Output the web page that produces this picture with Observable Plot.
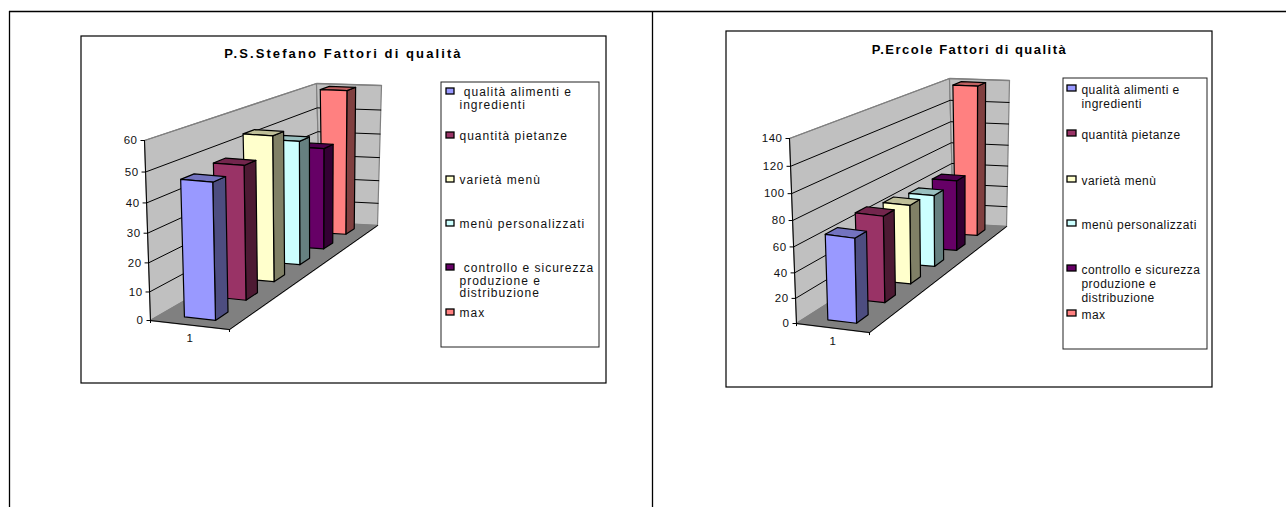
<!DOCTYPE html>
<html>
<head>
<meta charset="utf-8">
<script src="https://cdn.jsdelivr.net/npm/d3@7"></script>
<script src="https://cdn.jsdelivr.net/npm/@observablehq/plot@0.6"></script>
<style>
  html, body { margin: 0; padding: 0; background: #fff; }
  #page { position: relative; width: 1286px; height: 507px; overflow: hidden; }
  #page svg { position: absolute; left: 0; top: 0; }
  .title-0 { letter-spacing: 2.1px; }
  .title-1 { letter-spacing: 1.5px; }
  .legend-0 { letter-spacing: 1px; }
  .legend-1 { letter-spacing: 0.45px; }
</style>
</head>
<body>
<div id="page"></div>
<script>
// Survey results: one category, six quality factors, two sites.
const stefanoTitle = "P.S.Stefano Fattori di qualità";
const ercoleTitle = "P.Ercole Fattori di qualità";
const categoryLabels = ["1"];
const factorColors = ["#9999FF", "#993366", "#FFFFCC", "#CCFFFF", "#660066", "#FF8080"];
const stefanoValues = [47, 48, 54, 48, 41, 60];
const ercoleValues = [68, 72, 68, 64, 65, 140];
const stefanoTicks = [0, 10, 20, 30, 40, 50, 60];
const ercoleTicks = [0, 20, 40, 60, 80, 100, 120, 140];
const stefanoLegend = ["\u00a0qualità alimenti e\ningredienti", "quantità pietanze", "varietà menù", "menù personalizzati", "\u00a0controllo e sicurezza\nproduzione e\ndistribuzione", "max"];
const ercoleLegend = ["qualità alimenti e\ningredienti", "quantità pietanze", "varietà menù", "menù personalizzati", "controllo e sicurezza\nproduzione e\ndistribuzione", "max"];

// Page layout, in pixels.
const W = 1286, H = 507;
const FONT = "'Liberation Sans', Arial, sans-serif";
const panels = [
  {
    title: stefanoTitle, values: stefanoValues, ticks: stefanoTicks, legend: stefanoLegend,
    box: {x1: 81, x2: 606, y1: 36, y2: 383}, titleAt: [343, 53],
    legendBox: {x1: 441, x2: 599, y1: 82, y2: 347},
    legendX: [446, 454, 459], legendY: [91, 135, 179, 223, 267, 312], lineHeight: 1.03,
    // frame corners, keyed u (across), v (up), d (into the page)
    corners: {
      "000": [150, 320], "100": [229, 329], "010": [144, 140], "110": [226, 147],
      "001": [320, 222], "101": [377, 225], "011": [316, 83], "111": [381, 85]
    }
  },
  {
    title: ercoleTitle, values: ercoleValues, ticks: ercoleTicks, legend: ercoleLegend,
    box: {x1: 726, x2: 1212, y1: 31, y2: 387}, titleAt: [969, 49],
    legendBox: {x1: 1063, x2: 1207, y1: 78, y2: 349},
    legendX: [1067, 1076, 1081], legendY: [88, 133, 179, 223, 268, 313], lineHeight: 1.15,
    corners: {
      "000": [796, 323], "100": [869, 332], "010": [789, 138], "110": [866, 150],
      "001": [953, 223], "101": [1006, 226], "011": [949, 78], "111": [1009, 80]
    }
  }
];

// Depth and height foreshortening of the 3D view.
const depthBend = 0.27, heightBend = 0.062;
const bendDepth = e => e * (1 + depthBend) / (1 + depthBend * e);
const bendHeight = t => t / (1 + heightBend * (1 - t));

// Column footprint inside one category and one depth slot.
const columnU = [0.3, 0.7];
const slotGap = 0.3, slotDepth = 0.4;

const lerp = (a, b, t) => a + (b - a) * t;

function shade(color, k) {
  const c = d3.rgb(color);
  return d3.rgb(c.r * k, c.g * k, c.b * k).formatHex();
}

// Table rules, chart frames, titles, legends.
const frames = panels.map(p => p.box);
const legendFrames = panels.map(p => p.legendBox);
const tableV = [9, 652];
const legendRows = panels.flatMap((p, k) => p.legend.map((label, i) => ({
  panel: k, label, color: factorColors[i],
  x1: p.legendX[0], x2: p.legendX[1], tx: p.legendX[2],
  cy: p.legendY[i]
})));

const base = Plot.plot({
  width: W, height: H, margin: 0,
  x: {domain: [0, W], range: [0, W], axis: null},
  y: {domain: [0, H], range: [0, H], axis: null},
  color: {type: "identity"},
  style: {background: "transparent", fontFamily: FONT},
  marks: [
    Plot.ruleX(tableV, {y1: () => 11, y2: () => H, stroke: "#000", strokeWidth: 1.3}),
    Plot.ruleY([11], {x1: () => 9, x2: () => W, stroke: "#000", strokeWidth: 1.3}),
    Plot.rect(frames, {x1: "x1", x2: "x2", y1: "y1", y2: "y2", fill: "#fff", stroke: "#000", strokeWidth: 1.2}),
    Plot.rect(legendFrames, {x1: "x1", x2: "x2", y1: "y1", y2: "y2", fill: "#fff", stroke: "#222", strokeWidth: 1}),
    Plot.rect(legendRows, {x1: "x1", x2: "x2", y1: d => d.cy - 3, y2: d => d.cy + 3, fill: "color", stroke: "#000", strokeWidth: 1.3}),
    ...panels.flatMap((p, k) => [
      Plot.text([p], {
        x: d => d.titleAt[0], y: d => d.titleAt[1], text: "title",
        fontWeight: "bold", fontSize: 13, fill: "#000", className: `title-${k}`
      }),
      Plot.text(legendRows.filter(d => d.panel === k), {
        x: "tx", y: d => d.cy - 4, text: "label", textAnchor: "start", lineAnchor: "top",
        lineHeight: p.lineHeight, fontSize: 12, fill: "#111", className: `legend-${k}`
      })
    ])
  ]
});
document.getElementById("page").appendChild(base);

// One 3D column chart, drawn on value and category scales.
function columnChart(p) {
  const yMax = d3.max(p.ticks);
  const c = p.corners;
  const xs = d3.scaleLinear([0, 1], [c["000"][0], c["100"][0]]);
  const ys = d3.scaleLinear([0, yMax], [c["000"][1], c["010"][1]]);
  const unit = Object.fromEntries(Object.entries(c).map(([k, [a, b]]) => [k, [xs.invert(a), ys.invert(b)]]));

  // Places (across, value, depth) in chart units.
  const project = (u, v, e) => {
    const t = bendHeight(v / yMax), d = bendDepth(e);
    return [0, 1].map(i => lerp(
      lerp(lerp(unit["000"][i], unit["100"][i], u), lerp(unit["010"][i], unit["110"][i], u), t),
      lerp(lerp(unit["001"][i], unit["101"][i], u), lerp(unit["011"][i], unit["111"][i], u), t),
      d));
  };
  const path = list => list.map(a => project(...a));

  // Walls
  const walls = [];
  [
    [[0, 0, 0], [0, yMax, 0], [0, yMax, 1], [0, 0, 1]],
    [[0, 0, 1], [0, yMax, 1], [1, yMax, 1], [1, 0, 1]]
  ].forEach((list, id) => {
    const pts = path(list);
    [...pts, pts[0]].forEach(([x, y]) => walls.push({id, x, y}));
  });
  const floor = path([[0, 0, 0], [1, 0, 0], [1, 0, 1], [0, 0, 1], [0, 0, 0]]);

  // Gridlines on both walls
  const grid = p.ticks.slice(1, -1).flatMap(v =>
    path([[0, v, 0], [0, v, 1], [1, v, 1]]).map(([x, y]) => ({v, x, y})));
  const topEdge = path([[0, yMax, 0], [0, yMax, 1], [1, yMax, 1]]);

  // Columns, painted from the far end to the near end
  const bars = [];
  const slots = p.values.length;
  const [u0, u1] = columnU;
  d3.range(slots - 1, -1, -1).forEach(i => {
    const v = p.values[i], col = factorColors[i];
    const e0 = (i + slotGap) / slots, e1 = (i + slotGap + slotDepth) / slots;
    const push = (fill, list) => {
      const id = bars.length ? bars[bars.length - 1].id + 1 : 0;
      const pts = path(list);
      [...pts, pts[0]].forEach(([x, y]) => bars.push({id, x, y, fill}));
    };
    push(shade(col, 0.5), [[u1, 0, e0], [u1, 0, e1], [u1, v, e1], [u1, v, e0]]);
    push(shade(col, 0.75), [[u0, v, e0], [u1, v, e0], [u1, v, e1], [u0, v, e1]]);
    push(col, [[u0, 0, e0], [u1, 0, e0], [u1, v, e0], [u0, v, e0]]);
  });

  const tick = 4 / (xs(1) - xs(0));
  const axisTicks = p.ticks.map(v => {
    const [x, y] = project(0, v, 0);
    return {v, x, y};
  });
  const floorFront = path([[0, 0, 0], [1, 0, 0], [1, 0, 1]]);
  const axisEdge = path([[0, 0, 0], [0, yMax, 0]]);
  const catTicks = path([[0, 0, 0], [1, 0, 0]]);
  const catLabels = categoryLabels.map(label => {
    const [x, y] = project(0.5, 0, 0);
    return {label, x, y};
  });

  return Plot.plot({
    width: W, height: H, margin: 0,
    x: {domain: [0, 1], range: [xs(0), xs(1)], axis: null},
    y: {domain: [0, yMax], range: [ys(0), ys(yMax)], axis: null},
    color: {type: "identity"},
    style: {background: "transparent", fontFamily: FONT, letterSpacing: "0.5px"},
    marks: [
      Plot.line(walls, {x: "x", y: "y", z: "id", fill: "#C0C0C0", stroke: "#808080", strokeWidth: 1.2}),
      Plot.line(grid, {x: "x", y: "y", z: "v", stroke: "#000", strokeWidth: 1}),
      Plot.line(topEdge, {x: d => d[0], y: d => d[1], stroke: "#808080", strokeWidth: 1.3}),
      Plot.line(floor, {x: d => d[0], y: d => d[1], fill: "#808080", stroke: "#808080"}),
      Plot.line(floorFront, {x: d => d[0], y: d => d[1], stroke: "#000", strokeWidth: 1}),
      Plot.line(axisEdge, {x: d => d[0], y: d => d[1], stroke: "#000", strokeWidth: 1}),
      Plot.line(bars, {x: "x", y: "y", z: "id", fill: "fill", stroke: "#000", strokeWidth: 1.2}),
      Plot.link(axisTicks, {x1: "x", y1: "y", x2: d => d.x - tick, y2: "y", stroke: "#000", strokeWidth: 1}),
      Plot.ruleX(catTicks, {x: d => d[0], y1: d => d[1], y2: d => d[1] - (yMax / 60), stroke: "#000", strokeWidth: 1}),
      Plot.text(axisTicks, {x: "x", y: "y", text: d => String(d.v), dx: -7, textAnchor: "end", fontSize: 11.5, fill: "#111"}),
      Plot.text(catLabels, {x: "x", y: "y", text: "label", dy: 13, fontSize: 11.5, fill: "#111"})
    ]
  });
}

panels.forEach(p => document.getElementById("page").appendChild(columnChart(p)));
</script>
</body>
</html>
